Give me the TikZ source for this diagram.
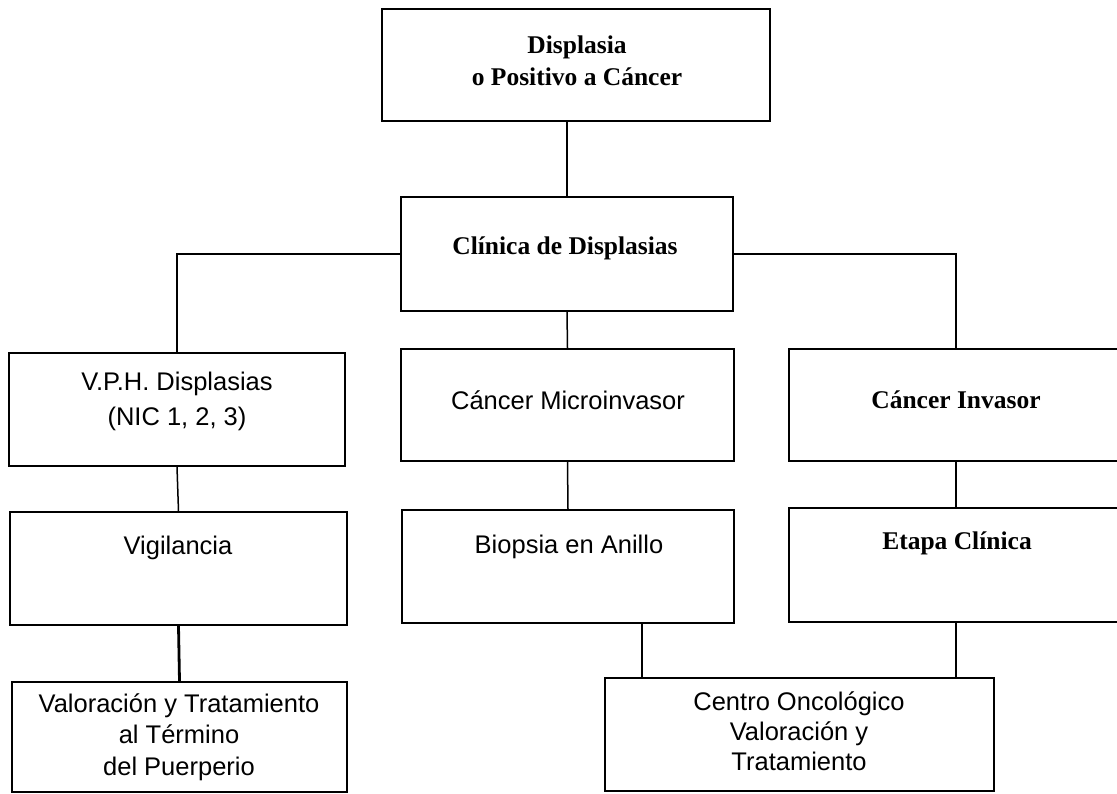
\documentclass[tikz,border=0pt]{standalone}
\usepackage{fontspec}
\setmainfont{Liberation Sans}
\newfontfamily\timesfont{Liberation Serif}
\usepackage{tikz}

\begin{document}
\begin{tikzpicture}[x=1pt, y=-1pt,
	box/.style={draw, line width=1.8pt, inner sep=0pt},
	lbl/.style={font=\fontsize{25.5}{31.5}\selectfont, align=center, inner sep=0pt},
	blbl/.style={lbl, font=\fontsize{25.5}{32}\selectfont\timesfont\bfseries},
	heavy/.style={line width=2.8pt},
	light/.style={line width=1.5pt}]
			\useasboundingbox (0,0) rectangle (1117,794);

			% cajas
			\node[box, minimum width=388, minimum height=112] (displasia) at (576,65) {};
			\node[blbl] (displasia-t) at (577,61) {Displasia\\o Positivo a Cáncer};

			\node[box, minimum width=332, minimum height=114] (clinica) at (567,254) {};
			\node[blbl] (clinica-t) at (565,248) {Clínica de Displasias};

			\node[box, minimum width=336, minimum height=113] (vph) at (177,409.5) {};
			\node[lbl] (vph-t) at (177,401) {V.P.H. Displasias\\[3.5pt](NIC 1, 2, 3)};

			\node[box, minimum width=333, minimum height=112] (micro) at (567.5,405) {};
			\node[lbl] (micro-t) at (568,400) {Cáncer Microinvasor};

			\node[box, minimum width=334, minimum height=112] (invasor) at (956,405) {};
			\node[blbl] (invasor-t) at (956,400) {Cáncer Invasor};

			\node[box, minimum width=337, minimum height=113] (vigilancia) at (178.5,568.5) {};
			\node[lbl] (vigilancia-t) at (178,548) {Vigilancia};

			\node[box, minimum width=332, minimum height=113] (biopsia) at (568,566.5) {};
			\node[lbl] (biopsia-t) at (569,547) {Biopsia en Anillo};

			\node[box, minimum width=334, minimum height=114] (etapa) at (956,565) {};
			\node[blbl] (etapa-t) at (957,543) {Etapa Clínica};

			\node[box, minimum width=335, minimum height=110] (valoracion) at (179.5,737) {};
			\node[lbl] (valoracion-t) at (179,737) {Valoración y Tratamiento\\al Término\\del Puerperio};

			\node[box, minimum width=389, minimum height=113] (centro) at (799.5,734.5) {};
			\node[lbl] (centro-t) at (799,731) {Centro Oncológico\\[-1.5pt]Valoración y\\[-1.5pt]Tratamiento};

			% lineas
			\draw[heavy] (clinica.north |- displasia.south) -- (clinica.north);
			\draw[heavy] (clinica.west) -| (vph.north);
			\draw[light] (clinica.east) -| (invasor.north);
			\draw[light] (clinica.south) -- (micro.north);

			\draw[light] (vph.south) -- (vigilancia.north);
			\draw[light] (micro.south) -- (biopsia.north);
			\draw[heavy] (invasor.south) -- (etapa.north);

			\draw[heavy] (vigilancia.south) -- (valoracion.north);
			\coordinate (bajada) at (642,650);
			\draw[light] (biopsia.south -| bajada) -- (centro.north -| bajada);
			\draw[light] (etapa.south) -- (etapa.south |- centro.north);
\end{tikzpicture}
\end{document}
